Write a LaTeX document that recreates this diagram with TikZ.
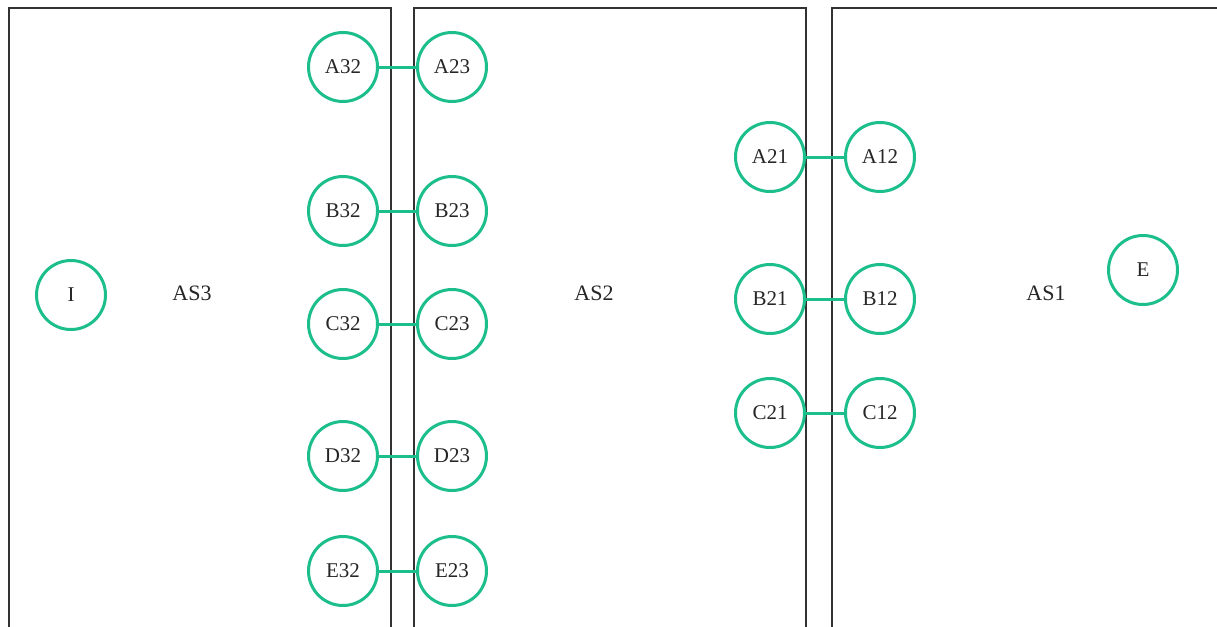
\documentclass[tikz,border=0pt]{standalone}
\usepackage{fontspec}
\setmainfont{Liberation Serif}
\definecolor{cgreen}{RGB}{28,190,140}
\definecolor{cbox}{RGB}{50,50,50}
\tikzset{
  port/.style={circle, draw=cgreen, line width=3pt, minimum size=69pt, inner sep=0pt, font=\fontsize{21}{24}\selectfont, text=black!85},
  link/.style={draw=cgreen, line width=3pt},
  asbox/.style={draw=cbox, line width=1.8pt},
  aslabel/.style={font=\fontsize{22}{26}\selectfont, text=black!85}
}
\begin{document}
\begin{tikzpicture}[x=1pt,y=-1pt]
\useasboundingbox (0,0) rectangle (1217,626);
\clip (0,0) rectangle (1217,626);
\fill[white] (0,0) rectangle (1217,626);
% boxes
\draw[asbox] (9,640) -- (9,8) -- (391,8) -- (391,640);
\draw[asbox] (414,640) -- (414,8) -- (806,8) -- (806,640);
\draw[asbox] (832,640) -- (832,8) -- (1240,8);
% labels
\node[aslabel] (as3) at (192,293) {AS3};
\node[aslabel] (as2) at (594,293) {AS2};
\node[aslabel] (as1) at (1046,293) {AS1};
% endpoints
\node[port] (I) at (71,295) {I};
\node[port] (E) at (1143,270) {E};
% AS3-AS2 pairs
\node[port] (A32) at (343,67) {A32};
\node[port] (A23) at (452,67) {A23};
\node[port] (B32) at (343,211) {B32};
\node[port] (B23) at (452,211) {B23};
\node[port] (C32) at (343,324) {C32};
\node[port] (C23) at (452,324) {C23};
\node[port] (D32) at (343,456) {D32};
\node[port] (D23) at (452,456) {D23};
\node[port] (E32) at (343,571) {E32};
\node[port] (E23) at (452,571) {E23};
% AS2-AS1 pairs
\node[port] (A21) at (770,157) {A21};
\node[port] (A12) at (880,157) {A12};
\node[port] (B21) at (770,299) {B21};
\node[port] (B12) at (880,299) {B12};
\node[port] (C21) at (770,413) {C21};
\node[port] (C12) at (880,413) {C12};
% links
\draw[link] (A32) -- (A23);
\draw[link] (B32) -- (B23);
\draw[link] (C32) -- (C23);
\draw[link] (D32) -- (D23);
\draw[link] (E32) -- (E23);
\draw[link] (A21) -- (A12);
\draw[link] (B21) -- (B12);
\draw[link] (C21) -- (C12);
\end{tikzpicture}
\end{document}
